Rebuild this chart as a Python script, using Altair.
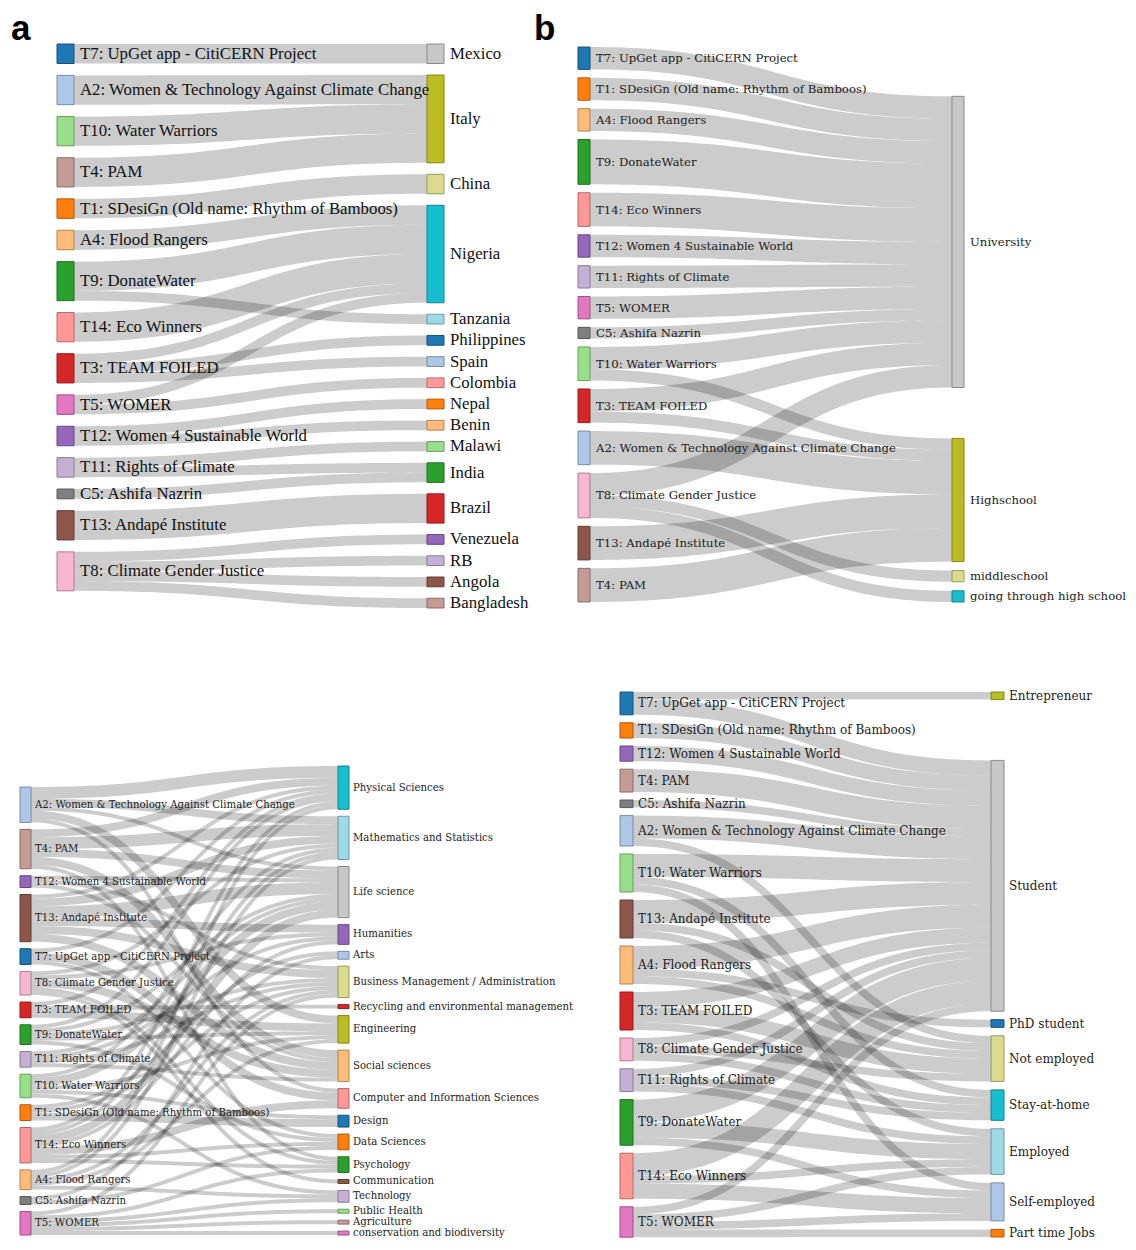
import altair as alt
import pandas as pd
import numpy as np

# ---------------- team names ----------------
T7 = "T7: UpGet app - CitiCERN Project"
A2 = "A2: Women & Technology Against Climate Change"
T10 = "T10: Water Warriors"
T4 = "T4: PAM"
T1 = "T1: SDesiGn (Old name: Rhythm of Bamboos)"
A4 = "A4: Flood Rangers"
T9 = "T9: DonateWater"
T14 = "T14: Eco Winners"
T3 = "T3: TEAM FOILED"
T5 = "T5: WOMER"
T12 = "T12: Women 4 Sustainable World"
T11 = "T11: Rights of Climate"
C5 = "C5: Ashifa Nazrin"
T13 = "T13: Andapé Institute"
T8 = "T8: Climate Gender Justice"

TEAM_COLORS = {T7: "#1f77b4", A2: "#aec7e8", T10: "#98df8a", T4: "#c49c94", T1: "#ff7f0e",
               A4: "#ffbb78", T9: "#2ca02c", T14: "#ff9896", T3: "#d62728", T5: "#e377c2",
               T12: "#9467bd", T11: "#c5b0d5", C5: "#7f7f7f", T13: "#8c564b", T8: "#f7b6d2"}

# ---------------- panel a : country ----------------
A_SOURCES = [T7, A2, T10, T4, T1, A4, T9, T14, T3, T5, T12, T11, C5, T13, T8]
A_TARGETS = ["Mexico", "Italy", "China", "Nigeria", "Tanzania", "Philippines", "Spain", "Colombia",
             "Nepal", "Benin", "Malawi", "India", "Brazil", "Venezuela", "RB", "Angola", "Bangladesh"]
A_TARGET_COLORS = ["#c7c7c7", "#bcbd22", "#dbdb8d", "#17becf", "#9edae5", "#1f77b4", "#aec7e8", "#ff9896",
                   "#ff7f0e", "#ffbb78", "#98df8a", "#2ca02c", "#d62728", "#9467bd", "#c5b0d5", "#8c564b", "#c49c94"]
A_SRC = [T7, A2, T10, T4, T1, A4, T9, T9, T14, T3, T3, T3, T5, T5, T12, T12, T11, T11, C5, T13, T8, T8, T8, T8]
A_TGT = ["Mexico", "Italy", "Italy", "Italy", "China", "Nigeria", "Nigeria", "Tanzania", "Nigeria",
         "Nigeria", "Philippines", "Spain", "Nigeria", "Colombia", "Nepal", "Benin", "Malawi", "India",
         "India", "Brazil", "Venezuela", "RB", "Angola", "Bangladesh"]
A_VAL = [2, 3, 3, 3, 2, 2, 3, 1, 3, 1, 1, 1, 1, 1, 1, 1, 1, 1, 1, 3, 1, 1, 1, 1]

# ---------------- panel b : education ----------------
B_SOURCES = [T7, T1, A4, T9, T14, T12, T11, T5, C5, T10, T3, A2, T8, T13, T4]
B_TARGETS = ["University", "Highschool", "middleschool", "going through high school"]
B_TARGET_COLORS = ["#c7c7c7", "#bcbd22", "#dbdb8d", "#17becf"]
B_SRC = [T7, T1, A4, T9, T14, T12, T11, T5, C5, T10, T10, T3, T3, A2, T8, T8, T8, T13, T4]
B_TGT = ["University"] * 10 + ["Highschool", "University", "Highschool", "Highschool", "University",
                               "middleschool", "going through high school", "Highschool", "Highschool"]
B_VAL = [2, 2, 2, 4, 3, 2, 2, 2, 1, 2, 1, 2, 1, 3, 2, 1, 1, 3, 3]

# ---------------- panel c : field of study ----------------
PHY, MAT, LIF, HUM, ART = "Physical Sciences", "Mathematics and Statistics", "Life science", "Humanities", "Arts"
BUS, REC, ENG, SOC = "Business Management / Administration", "Recycling and environmental management", "Engineering", "Social sciences"
COM, DES, DAT, PSY = "Computer and Information Sciences", "Design", "Data Sciences", "Psychology"
CMM, TEC, PUB, AGR, CON = "Communication", "Technology", "Public Health", "Agriculture", "conservation and biodiversity"
C_SOURCES = [A2, T4, T12, T13, T7, T8, T3, T9, T11, T10, T1, T14, A4, C5, T5]
C_TARGETS = [PHY, MAT, LIF, HUM, ART, BUS, REC, ENG, SOC, COM, DES, DAT, PSY, CMM, TEC, PUB, AGR, CON]
C_TARGET_COLORS = ["#17becf", "#9edae5", "#c7c7c7", "#9467bd", "#aec7e8", "#dbdb8d", "#d62728", "#bcbd22",
                   "#ffbb78", "#ff9896", "#1f77b4", "#ff7f0e", "#2ca02c", "#8c564b", "#c5b0d5", "#98df8a",
                   "#c49c94", "#e377c2"]
C_SRC = [A2] * 5 + [T4] * 5 + [T12] * 3 + [T13] * 6 + [T7] * 3 + [T8] * 5 + [T3] * 3 + [T9] * 5 + \
        [T11] * 4 + [T10] * 5 + [T1] * 3 + [T14] * 7 + [A4] * 5 + [C5] * 2 + [T5] * 6
C_TGT = [PHY, MAT, LIF, ENG, COM,
         PHY, MAT, LIF, SOC, PSY,
         LIF, BUS, SOC,
         PHY, MAT, LIF, HUM, BUS, SOC,
         PHY, COM, DAT,
         MAT, HUM, SOC, PSY, CMM,
         PHY, ENG, REC,
         PHY, LIF, BUS, ENG, DAT,
         LIF, HUM, BUS, SOC,
         MAT, LIF, ENG, DES, TEC,
         ART, BUS, DES,
         PHY, MAT, LIF, HUM, COM, DAT, PSY,
         PHY, MAT, BUS, ENG, TEC,
         ART, DAT,
         BUS, PSY, TEC, PUB, AGR, CON]
C_VAL = [3, 2, 1, 2, 1,
         2, 3, 2, 2, 1,
         1, 1, 1,
         1, 2, 3, 2, 2, 2,
         1, 2, 1,
         1, 1, 2, 1, 1,
         1, 2, 1,
         1, 1, 1, 1, 1,
         1, 1, 1, 1,
         1, 2, 1, 1, 1,
         1, 1, 2,
         1, 1, 2, 1, 2, 1, 1,
         1, 1, 1, 1, 1,
         1, 1,
         1, 1, 1, 1, 1, 1]

# ---------------- panel d : occupation ----------------
D_SOURCES = [T7, T1, T12, T4, C5, A2, T10, T13, A4, T3, T8, T11, T9, T14, T5]
D_TARGETS = ["Entrepreneur", "Student", "PhD student", "Not employed", "Stay-at-home", "Employed",
             "Self-employed", "Part time Jobs"]
D_TARGET_COLORS = ["#bcbd22", "#c7c7c7", "#1f77b4", "#dbdb8d", "#17becf", "#9edae5", "#aec7e8", "#ff7f0e"]
D_SRC = [T7, T7, T1, T12, T4, C5, A2, A2, T10, T10, T10, T13, T13, T13, A4, A4, A4, T3, T3, T3,
         T8, T8, T8, T11, T11, T11, T9, T9, T9, T14, T14, T14, T5, T5, T5, T5]
D_TGT = ["Entrepreneur", "Student", "Student", "Student", "Student", "Student",
         "Student", "Not employed",
         "Student", "Stay-at-home", "Self-employed",
         "Student", "Not employed", "Employed",
         "Student", "PhD student", "Not employed",
         "Student", "Not employed", "Stay-at-home",
         "Student", "Not employed", "Stay-at-home",
         "Student", "Stay-at-home", "Employed",
         "Student", "Employed", "Self-employed",
         "Student", "Employed", "Self-employed",
         "Student", "Employed", "Self-employed", "Part time Jobs"]
D_VAL = [1, 2, 2, 2, 3, 1,
         3, 1,
         3, 1, 1,
         3, 1, 1,
         3, 1, 1,
         2, 2, 1,
         1, 1, 1,
         1, 1, 1,
         3, 2, 1,
         3, 1, 2,
         1, 1, 1, 1]

# ---------------- layout parameters (geometry / style) ----------------
GEO = {
    "a": dict(sx=57, tx=427, nw=17, unit=9.75, src_top=44, pad_src=11.9, top=44, bottom=608, pad=11.48,
              fs=16.8, lo=6),
    "b": dict(sx=578, tx=952, nw=12, unit=11.2, src_top=47, pad_src=8.44, top=47, bottom=602, pad=9,
              fs=11.7, lo=6),
    "c": dict(sx=20, tx=338, nw=11, unit=3.933, src_top=787, pad_src=7, top=766, bottom=1235, pad=7.0,
              fs=10.15, lo=4),
    "d": dict(sx=620, tx=991, nw=13, unit=7.6, src_top=692, pad_src=8, top=692, bottom=1237, pad=8.5,
              fs=12, lo=5),
}

CHART_W = 1120
CHART_H = 1232


def darker(hexc, k=0.7):
    r, g, b = int(hexc[1:3], 16), int(hexc[3:5], 16), int(hexc[5:7], 16)
    return "#%02x%02x%02x" % (int(r * k), int(g * k), int(b * k))


def sankey(key, sources, targets, tcolors, src, tgt, val):
    g = GEO[key]
    unit = g["unit"]
    links = list(zip(src, tgt, val))
    sv = {s: 0 for s in sources}
    tv = {t: 0 for t in targets}
    for s, t, v in links:
        sv[s] += v
        tv[t] += v
    sy = {}
    y = g["src_top"]
    for s in sources:
        h = sv[s] * unit
        sy[s] = [y, y + h]
        y += h + g["pad_src"]
    ty = {}
    y = g["top"]
    for t in targets:
        h = tv[t] * unit
        ty[t] = [y, y + h]
        y += h + g["pad"]

    def offsets():
        so, to = {}, {}
        for s in sources:
            idx = sorted([i for i, l in enumerate(links) if l[0] == s], key=lambda i: ty[links[i][1]][0])
            yy = sy[s][0]
            for i in idx:
                so[i] = yy
                yy += links[i][2] * unit
        for t in targets:
            idx = sorted([i for i, l in enumerate(links) if l[1] == t], key=lambda i: sy[links[i][0]][0])
            yy = ty[t][0]
            for i in idx:
                to[i] = yy
                yy += links[i][2] * unit
        return so, to

    for _ in range(6):
        so, to = offsets()
        ideal = {}
        for t in targets:
            num = sum(links[i][2] * (so[i] + links[i][2] * unit / 2) for i in so if links[i][1] == t)
            ideal[t] = num / tv[t] - tv[t] * unit / 2
        yy = g["top"]
        for t in targets:
            h = tv[t] * unit
            y0 = max(ideal[t], yy)
            ty[t] = [y0, y0 + h]
            yy = y0 + h + g["pad"]
        yy = g["bottom"]
        for t in reversed(targets):
            h = tv[t] * unit
            y1 = min(ty[t][1], yy)
            ty[t] = [y1 - h, y1]
            yy = y1 - h - g["pad"]
        yy = g["top"]
        for t in targets:
            h = tv[t] * unit
            if ty[t][0] < yy:
                ty[t] = [yy, yy + h]
            yy = ty[t][1] + g["pad"]
    so, to = offsets()

    nodes = []
    for s in sources:
        c = TEAM_COLORS[s]
        nodes.append(dict(name=s, x0=g["sx"], x1=g["sx"] + g["nw"], y0=sy[s][0], y1=sy[s][1],
                          fill=c, stroke=darker(c), lx=g["sx"] + g["nw"] + g["lo"],
                          ly=(sy[s][0] + sy[s][1]) / 2, fs=g["fs"], panel=key))
    for t, c in zip(targets, tcolors):
        nodes.append(dict(name=t, x0=g["tx"], x1=g["tx"] + g["nw"], y0=ty[t][0], y1=ty[t][1],
                          fill=c, stroke=darker(c), lx=g["tx"] + g["nw"] + g["lo"],
                          ly=(ty[t][0] + ty[t][1]) / 2, fs=g["fs"], panel=key))

    # links: horizontal cubic bezier (as d3.sankeyLinkHorizontal), drawn as a band whose
    # vertical extent mimics a stroke of width w
    rows = []
    xa, xb = g["sx"] + g["nw"], g["tx"]
    xm = (xa + xb) / 2
    for i, (s, t, v) in enumerate(links):
        w = v * unit
        ya = so[i] + w / 2
        yb = to[i] + w / 2
        for tt in np.linspace(0, 1, 61):
            u = 1 - tt
            x = u ** 3 * xa + 3 * u * u * tt * xm + 3 * u * tt * tt * xm + tt ** 3 * xb
            yv = u ** 3 * ya + 3 * u * u * tt * ya + 3 * u * tt * tt * yb + tt ** 3 * yb
            dx = 3 * u * u * (xm - xa) + 3 * tt * tt * (xb - xm)
            dy = 6 * u * tt * (yb - ya)
            sec = np.sqrt(dx * dx + dy * dy) / dx if dx > 0 else 1.0
            hw = w / 2 * sec
            rows.append(dict(lid=f"{key}{i}", t=tt, x=x, ytop=yv - hw, ybot=yv + hw))
    return nodes, rows


all_nodes, all_links = [], []
for args in [("a", A_SOURCES, A_TARGETS, A_TARGET_COLORS, A_SRC, A_TGT, A_VAL),
             ("b", B_SOURCES, B_TARGETS, B_TARGET_COLORS, B_SRC, B_TGT, B_VAL),
             ("c", C_SOURCES, C_TARGETS, C_TARGET_COLORS, C_SRC, C_TGT, C_VAL),
             ("d", D_SOURCES, D_TARGETS, D_TARGET_COLORS, D_SRC, D_TGT, D_VAL)]:
    n, l = sankey(*args)
    all_nodes += n
    all_links += l

nodes_df = pd.DataFrame(all_nodes)
links_df = pd.DataFrame(all_links)
letters_df = pd.DataFrame({"txt": ["a", "b"], "x": [11, 534], "y": [40, 40]})

xs = alt.Scale(domain=[8, 8 + CHART_W], nice=False, zero=False)
ys = alt.Scale(domain=[8, 8 + CHART_H], nice=False, zero=False, reverse=True)

links_layer = alt.Chart(links_df).mark_area(color="#000000", opacity=0.2).encode(
    x=alt.X("x:Q", scale=xs, axis=None),
    y=alt.Y("ytop:Q", scale=ys, axis=None),
    y2="ybot:Q",
    detail="lid:N",
)

nodes_layer = alt.Chart(nodes_df).mark_rect(strokeWidth=1).encode(
    x=alt.X("x0:Q", scale=xs, axis=None), x2="x1:Q",
    y=alt.Y("y0:Q", scale=ys, axis=None), y2="y1:Q",
    fill=alt.Fill("fill:N", scale=None, legend=None),
    stroke=alt.Stroke("stroke:N", scale=None, legend=None),
)

text_a = alt.Chart(nodes_df[nodes_df.panel == "a"]).mark_text(
    align="left", baseline="middle", font="Liberation Serif", color="#111111").encode(
    x=alt.X("lx:Q", scale=xs, axis=None), y=alt.Y("ly:Q", scale=ys, axis=None),
    text="name:N", size=alt.Size("fs:Q", scale=None, legend=None))

text_bcd = alt.Chart(nodes_df[nodes_df.panel != "a"]).mark_text(
    align="left", baseline="middle", font="DejaVu Serif", color="#222222").encode(
    x=alt.X("lx:Q", scale=xs, axis=None), y=alt.Y("ly:Q", scale=ys, axis=None),
    text="name:N", size=alt.Size("fs:Q", scale=None, legend=None))

letters = alt.Chart(letters_df).mark_text(
    align="left", baseline="alphabetic", font="Liberation Sans", fontWeight="bold", fontSize=35,
    color="#000000").encode(
    x=alt.X("x:Q", scale=xs, axis=None), y=alt.Y("y:Q", scale=ys, axis=None), text="txt:N")

chart = alt.layer(links_layer, nodes_layer, text_a, text_bcd, letters).properties(
    width=CHART_W, height=CHART_H, autosize=alt.AutoSizeParams(type="none"), padding=0,
    background="white"
).configure_view(stroke=None)

chart.save("out.html", embed_options={"renderer": "svg", "actions": False})
